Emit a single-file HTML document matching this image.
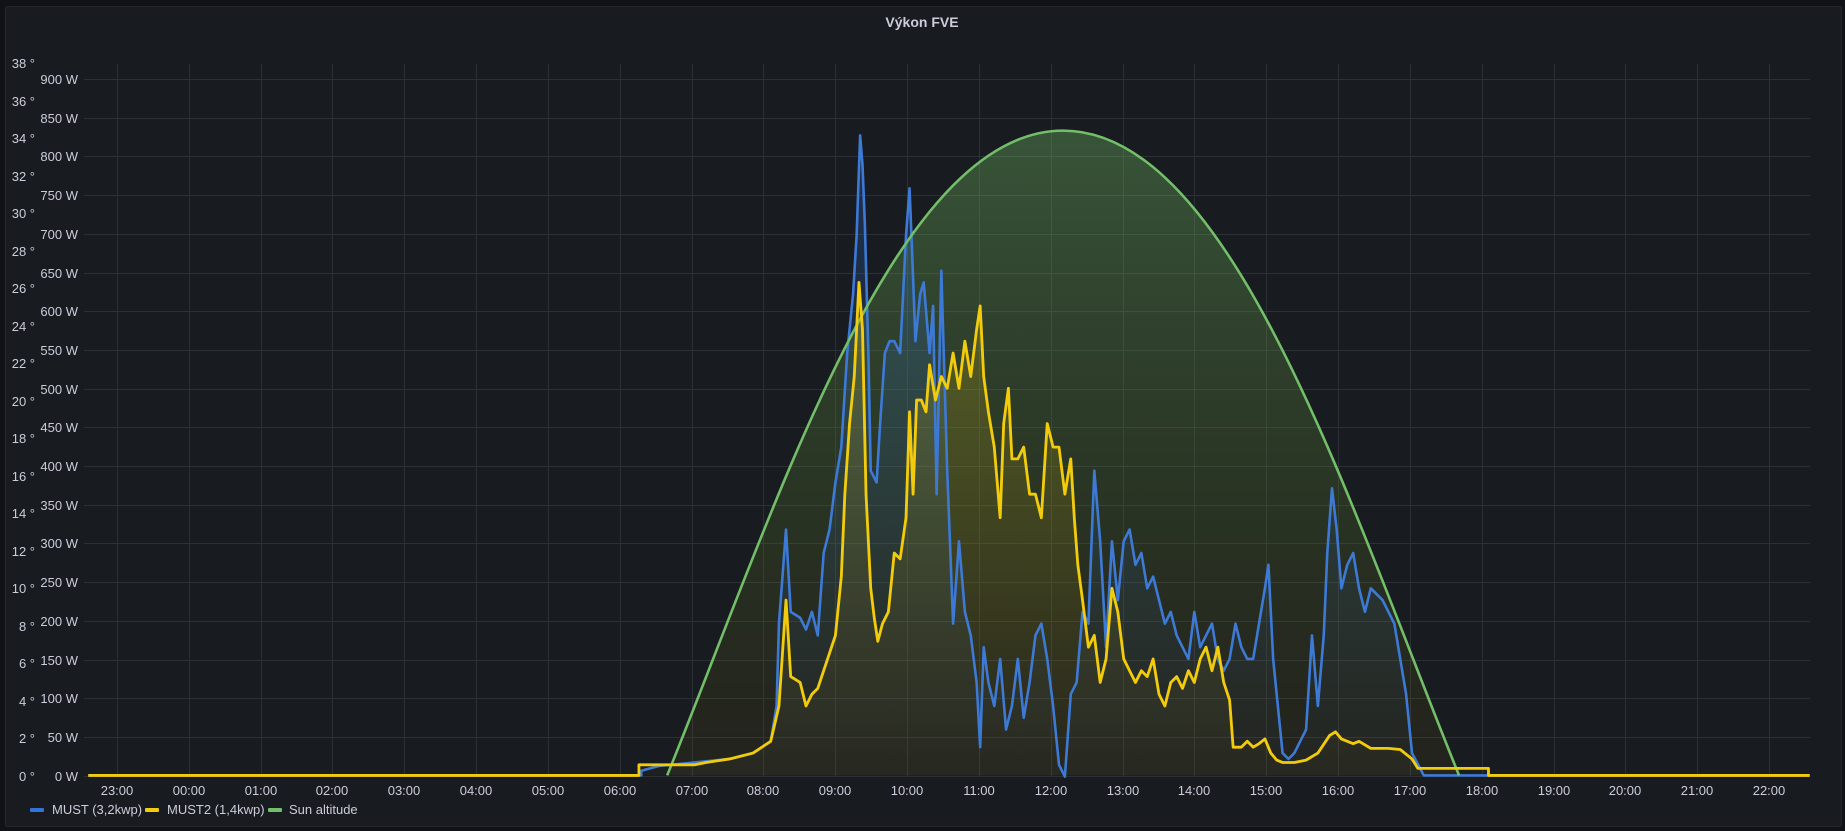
<!DOCTYPE html>
<html><head><meta charset="utf-8"><style>
html,body{margin:0;padding:0;background:#111217;}
svg{display:block;font-family:"Liberation Sans",sans-serif;}
</style></head><body>
<svg width="1845" height="831" viewBox="0 0 1845 831" xmlns="http://www.w3.org/2000/svg">
<defs>
<linearGradient id="gs" x1="0" y1="0" x2="0" y2="1">
<stop offset="0" stop-color="#73bf69" stop-opacity="0.35"/>
<stop offset="0.6" stop-color="#5a7a30" stop-opacity="0.25"/>
<stop offset="1" stop-color="#6b5a10" stop-opacity="0.12"/>
</linearGradient>
<linearGradient id="gb" x1="0" y1="0" x2="0" y2="1">
<stop offset="0" stop-color="#3274d9" stop-opacity="0.25"/>
<stop offset="1" stop-color="#3274d9" stop-opacity="0.02"/>
</linearGradient>
<linearGradient id="gy" x1="0" y1="0" x2="0" y2="1">
<stop offset="0" stop-color="#f2cc0c" stop-opacity="0.2"/>
<stop offset="1" stop-color="#f2cc0c" stop-opacity="0.02"/>
</linearGradient>
</defs>
<rect x="0" y="0" width="1845" height="831" fill="#111217"/>
<rect x="5.5" y="6.5" width="1836" height="820" rx="2" fill="#181b1f" stroke="#24272e"/>
<text x="922" y="27" fill="#ccccdc" font-size="14" text-anchor="middle" font-weight="bold">Výkon FVE</text>
<g stroke="#2c2f35" stroke-width="1">
<line x1="84" y1="776.5" x2="1810" y2="776.5"/>
<line x1="84" y1="737.5" x2="1810" y2="737.5"/>
<line x1="84" y1="698.5" x2="1810" y2="698.5"/>
<line x1="84" y1="660.5" x2="1810" y2="660.5"/>
<line x1="84" y1="621.5" x2="1810" y2="621.5"/>
<line x1="84" y1="582.5" x2="1810" y2="582.5"/>
<line x1="84" y1="543.5" x2="1810" y2="543.5"/>
<line x1="84" y1="505.5" x2="1810" y2="505.5"/>
<line x1="84" y1="466.5" x2="1810" y2="466.5"/>
<line x1="84" y1="427.5" x2="1810" y2="427.5"/>
<line x1="84" y1="389.5" x2="1810" y2="389.5"/>
<line x1="84" y1="350.5" x2="1810" y2="350.5"/>
<line x1="84" y1="311.5" x2="1810" y2="311.5"/>
<line x1="84" y1="273.5" x2="1810" y2="273.5"/>
<line x1="84" y1="234.5" x2="1810" y2="234.5"/>
<line x1="84" y1="195.5" x2="1810" y2="195.5"/>
<line x1="84" y1="156.5" x2="1810" y2="156.5"/>
<line x1="84" y1="118.5" x2="1810" y2="118.5"/>
<line x1="84" y1="79.5" x2="1810" y2="79.5"/>
</g>
<g stroke="#2c2f35" stroke-width="1">
<line x1="117.5" y1="64" x2="117.5" y2="776"/><line x1="189.5" y1="64" x2="189.5" y2="776"/>
<line x1="261.5" y1="64" x2="261.5" y2="776"/><line x1="332.5" y1="64" x2="332.5" y2="776"/>
<line x1="404.5" y1="64" x2="404.5" y2="776"/><line x1="476.5" y1="64" x2="476.5" y2="776"/>
<line x1="548.5" y1="64" x2="548.5" y2="776"/><line x1="620.5" y1="64" x2="620.5" y2="776"/>
<line x1="692.5" y1="64" x2="692.5" y2="776"/><line x1="763.5" y1="64" x2="763.5" y2="776"/>
<line x1="835.5" y1="64" x2="835.5" y2="776"/><line x1="907.5" y1="64" x2="907.5" y2="776"/>
<line x1="979.5" y1="64" x2="979.5" y2="776"/><line x1="1051.5" y1="64" x2="1051.5" y2="776"/>
<line x1="1123.5" y1="64" x2="1123.5" y2="776"/><line x1="1194.5" y1="64" x2="1194.5" y2="776"/>
<line x1="1266.5" y1="64" x2="1266.5" y2="776"/><line x1="1338.5" y1="64" x2="1338.5" y2="776"/>
<line x1="1410.5" y1="64" x2="1410.5" y2="776"/><line x1="1482.5" y1="64" x2="1482.5" y2="776"/>
<line x1="1554.5" y1="64" x2="1554.5" y2="776"/><line x1="1625.5" y1="64" x2="1625.5" y2="776"/>
<line x1="1697.5" y1="64" x2="1697.5" y2="776"/><line x1="1769.5" y1="64" x2="1769.5" y2="776"/>
</g>
<g fill="#ccccdc" font-size="13" text-anchor="end">
<text x="78" y="781">0 W</text><text x="78" y="742">50 W</text><text x="78" y="703">100 W</text>
<text x="78" y="665">150 W</text><text x="78" y="626">200 W</text><text x="78" y="587">250 W</text>
<text x="78" y="548">300 W</text><text x="78" y="510">350 W</text><text x="78" y="471">400 W</text>
<text x="78" y="432">450 W</text><text x="78" y="394">500 W</text><text x="78" y="355">550 W</text>
<text x="78" y="316">600 W</text><text x="78" y="278">650 W</text><text x="78" y="239">700 W</text>
<text x="78" y="200">750 W</text><text x="78" y="161">800 W</text><text x="78" y="123">850 W</text>
<text x="78" y="84">900 W</text>
</g>
<g fill="#ccccdc" font-size="13" text-anchor="end">
<text x="35" y="781">0 °</text><text x="35" y="743">2 °</text><text x="35" y="706">4 °</text>
<text x="35" y="668">6 °</text><text x="35" y="631">8 °</text><text x="35" y="593">10 °</text>
<text x="35" y="556">12 °</text><text x="35" y="518">14 °</text><text x="35" y="481">16 °</text>
<text x="35" y="443">18 °</text><text x="35" y="406">20 °</text><text x="35" y="368">22 °</text>
<text x="35" y="331">24 °</text><text x="35" y="293">26 °</text><text x="35" y="256">28 °</text>
<text x="35" y="218">30 °</text><text x="35" y="181">32 °</text><text x="35" y="143">34 °</text>
<text x="35" y="106">36 °</text><text x="35" y="68">38 °</text>
</g>
<g fill="#ccccdc" font-size="13" text-anchor="middle">
<text x="117" y="795">23:00</text><text x="189" y="795">00:00</text><text x="261" y="795">01:00</text>
<text x="332" y="795">02:00</text><text x="404" y="795">03:00</text><text x="476" y="795">04:00</text>
<text x="548" y="795">05:00</text><text x="620" y="795">06:00</text><text x="692" y="795">07:00</text>
<text x="763" y="795">08:00</text><text x="835" y="795">09:00</text><text x="907" y="795">10:00</text>
<text x="979" y="795">11:00</text><text x="1051" y="795">12:00</text><text x="1123" y="795">13:00</text>
<text x="1194" y="795">14:00</text><text x="1266" y="795">15:00</text><text x="1338" y="795">16:00</text>
<text x="1410" y="795">17:00</text><text x="1482" y="795">18:00</text><text x="1554" y="795">19:00</text>
<text x="1625" y="795">20:00</text><text x="1697" y="795">21:00</text><text x="1769" y="795">22:00</text>
</g>
<g transform="scale(1.17666)">
<path fill="url(#gs)" d="M567,659 C660,430 760,111 903.5,111 C1047,111 1147,430 1240,659 Z"/>
<polygon fill="url(#gb)" points="545,659 545,655 560,651 620,645 640,640 655,630 660,600 662,530 668,450 672,520 680,525 685,535 690,520 695,540 700,470 705,450 710,410 715,380 720,300 725,250 728,200 731,115 733,140 735,190 738,300 740,400 745,410 748,360 752,300 756,290 760,290 765,300 770,200 773,160 775,210 778,290 782,250 785,240 790,300 793,260 796,420 800,230 805,400 810,530 815,460 820,520 825,540 830,580 833,635 836,550 840,580 845,600 850,560 855,620 860,600 865,560 870,610 875,580 880,540 885,530 890,560 895,600 900,650 905,660 910,590 915,580 920,520 925,530 930,400 935,460 940,550 945,460 950,510 955,460 960,450 965,480 970,470 975,500 980,490 985,510 990,530 995,520 1000,540 1005,550 1010,560 1015,520 1020,550 1025,540 1030,530 1035,560 1040,570 1045,560 1050,530 1055,550 1060,560 1065,560 1070,530 1075,500 1078,480 1082,560 1086,600 1090,640 1095,645 1100,640 1105,630 1110,620 1115,540 1120,600 1125,540 1128,470 1132,415 1136,450 1140,500 1145,480 1150,470 1155,500 1160,520 1165,500 1170,505 1175,510 1180,520 1185,530 1190,560 1195,590 1200,640 1210,659"/>
<polygon fill="url(#gy)" points="543,659 543,650 590,650 600,648 620,645 640,640 655,630 662,600 668,510 672,575 680,580 685,600 690,590 695,585 700,570 705,555 710,540 715,490 718,420 722,360 726,320 730,240 733,280 736,420 740,500 743,525 746,545 750,530 755,520 760,470 765,475 770,440 773,350 776,420 779,340 783,340 787,350 790,310 795,340 800,320 805,330 810,300 815,330 820,290 825,320 830,280 833,260 836,320 840,350 845,380 850,440 853,360 857,330 860,390 865,390 870,380 875,420 880,420 885,440 890,360 895,380 900,380 905,420 910,390 913,440 916,480 920,510 925,550 930,540 935,580 940,560 945,500 950,520 955,560 960,570 965,580 970,570 975,575 980,560 985,590 990,600 995,580 1000,575 1005,585 1010,570 1015,580 1020,560 1025,550 1030,570 1035,550 1040,580 1045,595 1048,635 1055,635 1060,630 1065,635 1070,632 1075,628 1080,640 1085,646 1090,648 1100,648 1110,646 1120,640 1130,625 1135,622 1140,628 1150,632 1155,630 1165,636 1180,636 1190,637 1200,645 1205,653 1265,653 1265,659"/>
<polyline fill="none" stroke="#3d7ad6" stroke-width="2.2" stroke-linejoin="round" points="75,659 545,659 545,655 560,651 620,645 640,640 655,630 660,600 662,530 668,450 672,520 680,525 685,535 690,520 695,540 700,470 705,450 710,410 715,380 720,300 725,250 728,200 731,115 733,140 735,190 738,300 740,400 745,410 748,360 752,300 756,290 760,290 765,300 770,200 773,160 775,210 778,290 782,250 785,240 790,300 793,260 796,420 800,230 805,400 810,530 815,460 820,520 825,540 830,580 833,635 836,550 840,580 845,600 850,560 855,620 860,600 865,560 870,610 875,580 880,540 885,530 890,560 895,600 900,650 905,660 910,590 915,580 920,520 925,530 930,400 935,460 940,550 945,460 950,510 955,460 960,450 965,480 970,470 975,500 980,490 985,510 990,530 995,520 1000,540 1005,550 1010,560 1015,520 1020,550 1025,540 1030,530 1035,560 1040,570 1045,560 1050,530 1055,550 1060,560 1065,560 1070,530 1075,500 1078,480 1082,560 1086,600 1090,640 1095,645 1100,640 1105,630 1110,620 1115,540 1120,600 1125,540 1128,470 1132,415 1136,450 1140,500 1145,480 1150,470 1155,500 1160,520 1165,500 1170,505 1175,510 1180,520 1185,530 1190,560 1195,590 1200,640 1210,659 1538,659"/>
<path fill="none" stroke="#73bf69" stroke-width="2.2" d="M567,659 C660,430 760,111 903.5,111 C1047,111 1147,430 1240,659"/>
<polyline fill="none" stroke="#f2cc0c" stroke-width="2.4" stroke-linejoin="round" points="75,659 543,659 543,650 590,650 600,648 620,645 640,640 655,630 662,600 668,510 672,575 680,580 685,600 690,590 695,585 700,570 705,555 710,540 715,490 718,420 722,360 726,320 730,240 733,280 736,420 740,500 743,525 746,545 750,530 755,520 760,470 765,475 770,440 773,350 776,420 779,340 783,340 787,350 790,310 795,340 800,320 805,330 810,300 815,330 820,290 825,320 830,280 833,260 836,320 840,350 845,380 850,440 853,360 857,330 860,390 865,390 870,380 875,420 880,420 885,440 890,360 895,380 900,380 905,420 910,390 913,440 916,480 920,510 925,550 930,540 935,580 940,560 945,500 950,520 955,560 960,570 965,580 970,570 975,575 980,560 985,590 990,600 995,580 1000,575 1005,585 1010,570 1015,580 1020,560 1025,550 1030,570 1035,550 1040,580 1045,595 1048,635 1055,635 1060,630 1065,635 1070,632 1075,628 1080,640 1085,646 1090,648 1100,648 1110,646 1120,640 1130,625 1135,622 1140,628 1150,632 1155,630 1165,636 1180,636 1190,637 1200,645 1205,653 1265,653 1265,659 1538,659"/>
</g>
<g font-size="13" fill="#ccccdc">
<rect x="30" y="808" width="14" height="4" rx="1" fill="#3274d9"/><text x="52" y="814">MUST (3,2kwp)</text>
<rect x="145" y="808" width="14" height="4" rx="1" fill="#f2cc0c"/><text x="167" y="814">MUST2 (1,4kwp)</text>
<rect x="268" y="808" width="14" height="4" rx="1" fill="#73bf69"/><text x="289" y="814">Sun altitude</text>
</g>
</svg>
</body></html>
